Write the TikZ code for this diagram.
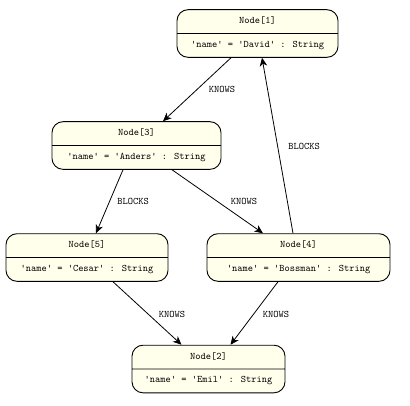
\documentclass[tikz,border=0pt]{standalone}
\usepackage{xcolor}
\usetikzlibrary{positioning,calc,shapes.multipart,arrows.meta}

\definecolor{nodefill}{RGB}{255,255,236}

\begin{document}
\begin{tikzpicture}[x=1pt,y=1pt,>={Stealth[length=8.5pt,width=7.5pt,inset=2.5pt]}]
		
		\tikzset{
			graphnode/.style={rectangle split, rectangle split parts=2,
				draw=black, line width=0.9pt, fill=nodefill, rounded corners=11pt,
				font=\ttfamily\fontsize{10}{11}\selectfont,
				text height=6.5pt, text depth=2pt, inner ysep=7.2pt, inner xsep=6pt,
				align=center},
			rel/.style={->, line width=0.8pt},
			rellabel/.style={font=\ttfamily\fontsize{10}{11}\selectfont, inner sep=0pt}
		}
		
		% ===== khung =====
		\useasboundingbox (0,0) rectangle (410,-405);
		
		% ===== 5 NODE =====
		\node[graphnode, minimum width=161pt] (n1) at (257.5,-33.5)
		{Node[1]\nodepart{two}'name' = 'David' : String};
		
		\node[graphnode, minimum width=169pt] (n3) at (136.5,-145.5)
		{Node[3]\nodepart{two}'name' = 'Anders' : String};
		
		\node[graphnode, minimum width=162pt] (n5) at (87,-257.5)
		{Node[5]\nodepart{two}'name' = 'Cesar' : String};
		
		\node[graphnode, minimum width=183pt] (n4) at (298.5,-257.5)
		{Node[4]\nodepart{two}'name' = 'Bossman' : String};
		
		\node[graphnode, minimum width=153pt] (n2) at (208.5,-369)
		{Node[2]\nodepart{two}'name' = 'Emil' : String};
		
		% ===== CÁC QUAN HỆ =====
		\draw[rel] ([xshift=-26.5pt]n1.south) -- ([xshift=26.5pt]n3.north);
		\draw[rel] ([xshift=-5.5pt]n4.north) -- ([xshift=4.5pt]n1.south);
		\draw[rel] ([xshift=-13.5pt]n3.south) -- ([xshift=9pt]n5.north);
		\draw[rel] ([xshift=35.5pt]n3.south) -- ([xshift=-35.5pt]n4.north);
		\draw[rel] ([xshift=26pt]n5.south) -- ([xshift=-27pt]n2.north);
		\draw[rel] ([xshift=-20.5pt]n4.south) -- ([xshift=22pt]n2.north);
		
		% ===== NHÃN =====
		\node[rellabel] (k13) at (222,-89) {KNOWS};
		\node[rellabel] (b41) at (304,-146) {BLOCKS};
		\node[rellabel] (b35) at (133,-201) {BLOCKS};
		\node[rellabel] (k34) at (244,-201) {KNOWS};
		\node[rellabel] (k52) at (172,-314) {KNOWS};
		\node[rellabel] (k42) at (276,-314) {KNOWS};
		
	\end{tikzpicture}
\end{document}
